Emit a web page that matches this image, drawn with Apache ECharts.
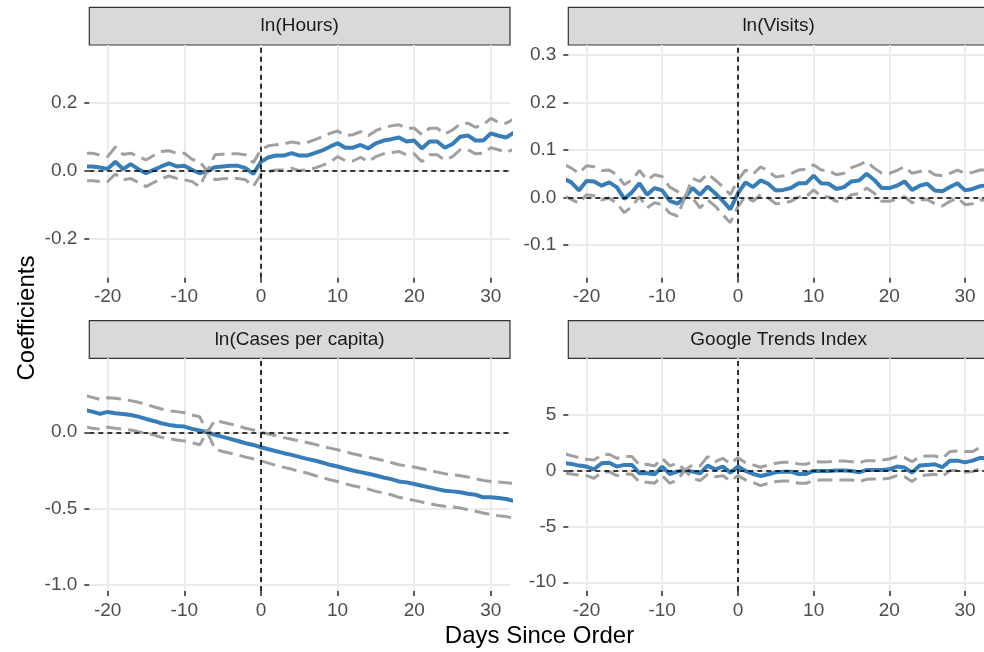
<!DOCTYPE html>
<html>
<head>
<meta charset="utf-8">
<script src="https://cdn.jsdelivr.net/npm/echarts@6/dist/echarts.min.js"></script>
<style>
html,body{margin:0;padding:0;background:#fff;}
#chart{width:984px;height:652px;}
</style>
</head>
<body>
<div id="chart"></div>
<script>
const days = [-23,-22,-21,-20,-19,-18,-17,-16,-15,-14,-13,-12,-11,-10,-9,-8,-7,-6,-5,-4,-3,-2,-1,0,1,2,3,4,5,6,7,8,9,10,11,12,13,14,15,16,17,18,19,20,21,22,23,24,25,26,27,28,29,30,31,32,33];

const panelTitles = ["ln(Hours)", "ln(Visits)", "ln(Cases per capita)", "Google Trends Index"];
const xTicks = [-20, -10, 0, 10, 20, 30];
const yTicks1 = [-0.2, 0.0, 0.2];
const yTicks2 = [-0.1, 0.0, 0.1, 0.2, 0.3];
const yTicks3 = [-1.0, -0.5, 0.0];
const yTicks4 = [-10, -5, 0, 5];

// ln(Hours)
const coef1 = [0.013,0.013,0.010,0.006,0.027,0.005,0.020,0.005,-0.007,0.003,0.013,0.022,0.013,0.015,0.003,-0.007,0,0.011,0.013,0.015,0.015,0.008,-0.009,0.027,0.040,0.045,0.045,0.052,0.045,0.045,0.052,0.060,0.071,0.081,0.068,0.068,0.076,0.066,0.081,0.089,0.093,0.098,0.086,0.089,0.066,0.086,0.086,0.068,0.079,0.100,0.104,0.089,0.089,0.110,0.103,0.098,0.112];
const upper1 = [0.052,0.052,0.046,0.042,0.070,0.048,0.052,0.042,0.032,0.045,0.057,0.059,0.052,0.052,0.034,0.027,0,0.047,0.049,0.050,0.050,0.047,0.024,0.062,0.074,0.077,0.079,0.085,0.081,0.083,0.091,0.100,0.110,0.117,0.104,0.106,0.115,0.103,0.118,0.127,0.132,0.135,0.125,0.125,0.106,0.125,0.125,0.108,0.120,0.138,0.140,0.128,0.135,0.154,0.142,0.140,0.152];
const lower1 = [-0.029,-0.029,-0.031,-0.031,-0.009,-0.026,-0.022,-0.034,-0.046,-0.034,-0.023,-0.015,-0.022,-0.026,-0.031,-0.046,0,-0.026,-0.023,-0.022,-0.022,-0.026,-0.046,-0.010,-0.002,0.003,0.003,0.008,0.001,0.003,0.008,0.016,0.025,0.042,0.030,0.029,0.040,0.027,0.042,0.050,0.054,0.057,0.047,0.050,0.027,0.047,0.047,0.032,0.042,0.062,0.062,0.050,0.052,0.068,0.062,0.054,0.064];

// ln(Visits)
const coef2 = [0.040,0.032,0.015,0.035,0.034,0.025,0.032,0.022,-0.003,0.011,0.030,0.006,0.020,0.015,-0.007,-0.013,0,0.020,0.006,0.023,0.009,-0.007,-0.025,0.009,0.032,0.022,0.036,0.029,0.015,0.016,0.020,0.030,0.030,0.046,0.030,0.029,0.018,0.022,0.034,0.036,0.050,0.037,0.020,0.020,0.025,0.034,0.016,0.025,0.029,0.015,0.013,0.022,0.030,0.015,0.018,0.024,0.026];
const upper2 = [0.070,0.062,0.051,0.067,0.065,0.057,0.058,0.048,0.027,0.037,0.057,0.037,0.048,0.044,0.022,0.013,0,0.040,0.034,0.050,0.037,0.023,0.006,0.037,0.058,0.049,0.065,0.056,0.043,0.046,0.050,0.058,0.060,0.069,0.058,0.057,0.048,0.051,0.063,0.069,0.076,0.062,0.051,0.051,0.057,0.065,0.051,0.055,0.058,0.048,0.046,0.051,0.058,0.051,0.053,0.058,0.058];
const lower2 = [0.004,-0.004,-0.012,0.006,0.004,-0.005,-0.001,-0.012,-0.032,-0.019,0.002,-0.022,-0.011,-0.015,-0.033,-0.039,0,-0.001,-0.022,-0.005,-0.018,-0.036,-0.053,-0.019,0.002,-0.008,0.006,-0.001,-0.013,-0.012,-0.008,0.001,0.002,0.016,0.002,0.001,-0.008,-0.007,0.006,0.008,0.020,0.009,-0.008,-0.008,-0.004,0.002,-0.011,-0.005,-0.004,-0.013,-0.018,-0.008,-0.001,-0.015,-0.013,-0.006,-0.006];

// ln(Cases per capita)
const coef3 = [0.145,0.135,0.120,0.133,0.124,0.120,0.113,0.102,0.087,0.074,0.059,0.048,0.041,0.037,0.022,0.011,0,-0.017,-0.030,-0.043,-0.057,-0.072,-0.083,-0.098,-0.111,-0.124,-0.137,-0.148,-0.161,-0.174,-0.185,-0.198,-0.213,-0.224,-0.237,-0.250,-0.261,-0.272,-0.283,-0.296,-0.307,-0.322,-0.328,-0.339,-0.350,-0.361,-0.372,-0.383,-0.387,-0.393,-0.402,-0.409,-0.426,-0.426,-0.430,-0.437,-0.450];
const upper3 = [0.240,0.228,0.215,0.226,0.222,0.215,0.207,0.196,0.183,0.167,0.152,0.141,0.135,0.128,0.113,0.102,0,0.080,0.065,0.054,0.041,0.026,0.015,0.000,-0.011,-0.024,-0.035,-0.046,-0.057,-0.067,-0.078,-0.093,-0.104,-0.115,-0.128,-0.141,-0.152,-0.163,-0.174,-0.185,-0.198,-0.213,-0.220,-0.228,-0.239,-0.250,-0.261,-0.272,-0.278,-0.285,-0.293,-0.304,-0.315,-0.322,-0.326,-0.330,-0.335];
const lower3 = [0.035,0.026,0.020,0.033,0.026,0.020,0.015,0.004,-0.007,-0.017,-0.033,-0.043,-0.050,-0.057,-0.067,-0.083,0,-0.111,-0.126,-0.137,-0.148,-0.163,-0.174,-0.187,-0.202,-0.217,-0.230,-0.241,-0.257,-0.267,-0.283,-0.296,-0.311,-0.322,-0.337,-0.350,-0.361,-0.372,-0.387,-0.398,-0.409,-0.426,-0.435,-0.446,-0.457,-0.467,-0.478,-0.485,-0.489,-0.496,-0.507,-0.517,-0.528,-0.539,-0.546,-0.552,-0.563];

// Google Trends Index
const coef4 = [0.66,0.57,0.42,0.33,0.09,0.63,0.68,0.33,0.48,0.48,-0.27,-0.27,-0.36,0.33,-0.33,-0.12,0,-0.12,-0.27,0.42,0.09,0.33,-0.21,0.33,-0.06,-0.33,-0.51,-0.36,-0.18,-0.12,-0.12,-0.33,-0.33,-0.06,-0.06,-0.06,-0.03,-0.03,-0.06,-0.18,0.03,0.03,0.03,0.09,0.33,0.24,-0.21,0.42,0.48,0.54,0.27,0.86,0.86,0.71,0.86,1.10,1.10];
const upper4 = [1.50,1.31,1.13,0.98,0.92,1.37,1.43,1.07,1.22,1.22,0.48,0.54,0.39,1.07,0.39,0.63,0,0.48,0.39,1.22,0.77,1.07,0.57,1.13,0.68,0.48,0.27,0.48,0.63,0.71,0.71,0.57,0.54,0.77,0.74,0.77,0.83,0.83,0.77,0.68,0.86,0.86,0.92,1.01,1.22,1.13,0.77,1.22,1.28,1.28,1.07,1.67,1.73,1.67,1.67,2.05,2.05];
const lower4 = [-0.24,-0.33,-0.42,-0.48,-0.71,-0.18,-0.12,-0.48,-0.33,-0.36,-1.07,-1.07,-1.16,-0.48,-1.16,-0.86,0,-0.71,-0.92,-0.36,-0.57,-0.48,-0.95,-0.48,-0.86,-1.10,-1.37,-1.16,-1.01,-0.95,-0.95,-1.16,-1.16,-0.92,-0.86,-0.86,-0.86,-0.86,-0.86,-1.01,-0.80,-0.77,-0.80,-0.71,-0.48,-0.57,-1.01,-0.48,-0.42,-0.36,-0.57,-0.03,-0.03,-0.18,-0.12,0.18,0.18];

const FONT = "'Liberation Sans', Arial, sans-serif";
const BLUE = "#377EB8";
const GREY = "#a0a0a0";

const panels = [
  {title: panelTitles[0], coef: coef1, up: upper1, lo: lower1, yt: yTicks1, ymin: -0.313, ymax: 0.369, dec: 1, left: 89.3, top: 45, stripTop: 7.3},
  {title: panelTitles[1], coef: coef2, up: upper2, lo: lower2, yt: yTicks2, ymin: -0.169, ymax: 0.3215, dec: 1, left: 568.3, top: 45, stripTop: 7.3},
  {title: panelTitles[2], coef: coef3, up: upper3, lo: lower3, yt: yTicks3, ymin: -1.039, ymax: 0.484, dec: 1, left: 89.3, top: 358.3, stripTop: 320.7},
  {title: panelTitles[3], coef: coef4, up: upper4, lo: lower4, yt: yTicks4, ymin: -10.78, ymax: 10.0, dec: 0, left: 568.3, top: 358.3, stripTop: 320.7}
];
const PW = 420.7, PH = 232.7;

const grids = [], xAxes = [], yAxes = [], series = [], graphics = [];
panels.forEach((p, i) => {
  grids.push({left: p.left, top: p.top, width: PW, height: PH, containLabel: false});
  xAxes.push({
    type: 'value', gridIndex: i, min: -22.4, max: 32.5, position: 'bottom',
    axisLine: {show: false, onZero: false},
    axisTick: {show: true, length: 5, customValues: xTicks, lineStyle: {color: '#333333', width: 1.6}},
    axisLabel: {customValues: xTicks, color: '#4d4d4d', fontSize: 19, fontFamily: FONT, margin: 10},
    splitLine: {show: true, lineStyle: {color: '#ebebeb', width: 2}}
  });
  yAxes.push({
    type: 'value', gridIndex: i, min: p.ymin, max: p.ymax, position: 'left',
    axisLine: {show: false, onZero: false},
    axisTick: {show: true, length: 5, customValues: p.yt, lineStyle: {color: '#333333', width: 1.6}},
    axisLabel: {customValues: p.yt, color: '#4d4d4d', fontSize: 19, fontFamily: FONT, margin: 12,
      formatter: v => Number(v).toFixed(p.dec)},
    splitLine: {show: true, lineStyle: {color: '#ebebeb', width: 2}}
  });
  const mk = arr => days.map((d, k) => [d, arr[k]]);
  series.push({type: 'line', xAxisIndex: i, yAxisIndex: i, data: mk(p.coef), symbol: 'none', z: 3,
    lineStyle: {color: BLUE, width: 4}, silent: true, animation: false});
  series.push({type: 'line', xAxisIndex: i, yAxisIndex: i, data: mk(p.up), symbol: 'none', z: 4,
    lineStyle: {color: GREY, width: 3, type: [15, 7]}, silent: true, animation: false});
  series.push({type: 'line', xAxisIndex: i, yAxisIndex: i, data: mk(p.lo), symbol: 'none', z: 4,
    lineStyle: {color: GREY, width: 3, type: [15, 7]}, silent: true, animation: false});
  series.push({type: 'line', xAxisIndex: i, yAxisIndex: i, data: [], z: 6, animation: false,
    markLine: {silent: true, symbol: ['none', 'none'], label: {show: false}, animation: false,
      lineStyle: {color: '#000000', width: 1.6, type: [5, 4]},
      data: [{xAxis: 0}, {yAxis: 0}]}});
  graphics.push({type: 'rect', shape: {x: p.left, y: p.stripTop, width: PW, height: p.top - p.stripTop},
    style: {fill: '#d9d9d9', stroke: '#333333', lineWidth: 1.2}, silent: true});
  graphics.push({type: 'text', x: p.left + PW / 2, y: (p.stripTop + p.top) / 2,
    style: {text: p.title, align: 'center', verticalAlign: 'middle', fontSize: 19, fontFamily: FONT, fill: '#1a1a1a'}, silent: true});
});

graphics.push({type: 'text', x: 539.5, y: 636,
  style: {text: 'Days Since Order', align: 'center', verticalAlign: 'middle', fontSize: 24, fontFamily: FONT, fill: '#000000'}});
graphics.push({type: 'text', x: 27, y: 318, rotation: Math.PI / 2,
  style: {text: 'Coefficients', align: 'center', verticalAlign: 'middle', fontSize: 24, fontFamily: FONT, fill: '#000000'}});

const chart = echarts.init(document.getElementById('chart'), null, {renderer: 'canvas'});
chart.setOption({
  animation: false,
  backgroundColor: '#ffffff',
  grid: grids, xAxis: xAxes, yAxis: yAxes, series: series, graphic: graphics
});
</script>
</body>
</html>
